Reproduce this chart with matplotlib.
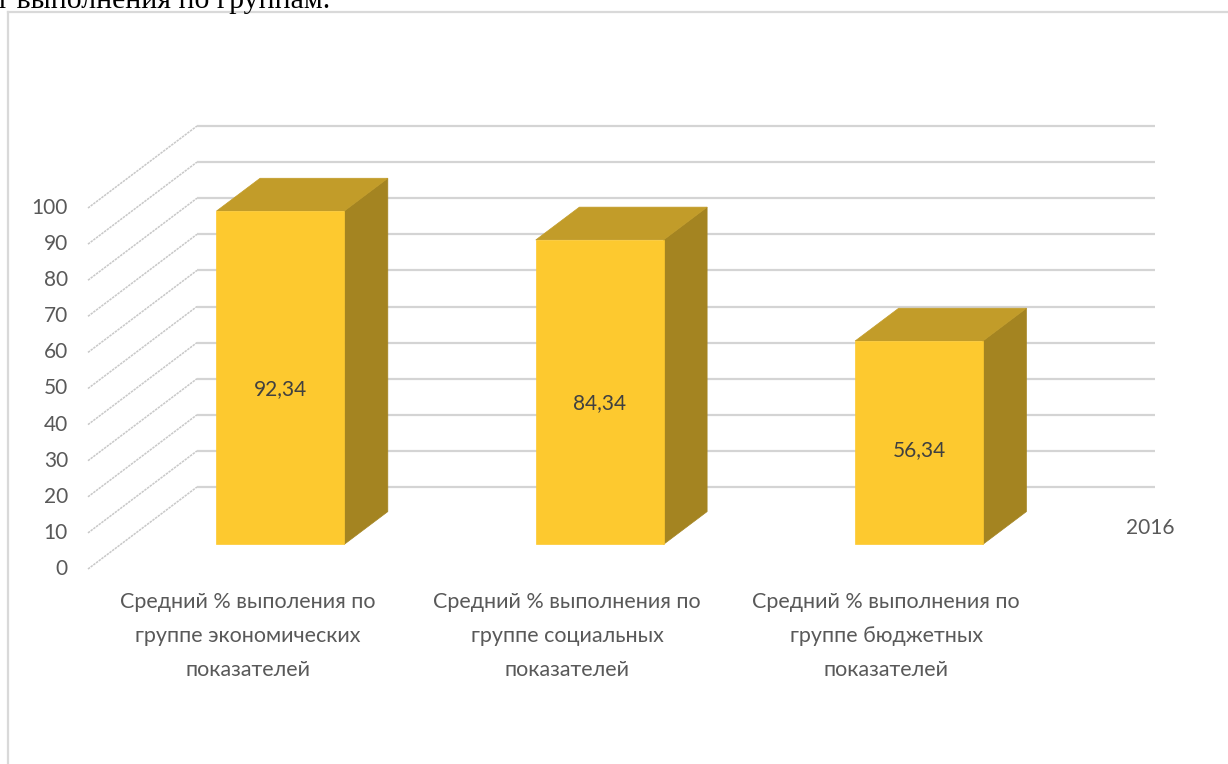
import matplotlib
matplotlib.use("Agg")
import matplotlib.pyplot as plt
from matplotlib.patches import Polygon

# ---- data ----
categories = [
    "Средний % выполения по\nгруппе экономических\nпоказателей",
    "Средний % выполнения по\nгруппе социальных\nпоказателей",
    "Средний % выполнения по\nгруппе бюджетных\nпоказателей",
]
values = [92.34, 84.34, 56.34]
value_labels = ["92,34", "84,34", "56,34"]
y_ticks = [0, 10, 20, 30, 40, 50, 60, 70, 80, 90, 100]
series_name = "2016"
doc_text = "т выполнения по группам."

# ---- geometry (pixels of the 1228x764 canvas) ----
W, H = 1228, 764
PX_X0 = 88.0       # front-plane left edge
CAT_PX = 319.3     # width of one category
PX_Y0 = 569.0      # front-plane zero line (from top)
VAL_PX = 3.61      # pixels per value unit
DEPTH_X, DEPTH_Y = 109.0, 82.0
DX = DEPTH_X / CAT_PX
DY = DEPTH_Y / VAL_PX
BAR_W = 0.4
D0, D1 = 0.3, 0.7

FRONT = "#FDC92F"
TOP = "#C29C29"
SIDE = "#A48421"
GRID = "#D4D4D4"
TXT = "#595959"

plt.rcParams['font.family'] = ['Lato', 'DejaVu Sans']

fig = plt.figure(figsize=(W / 100, H / 100), dpi=100)
ax = fig.add_axes([0, 0, 1, 1])
ax.set_xlim(-PX_X0 / CAT_PX, (W - PX_X0) / CAT_PX)
ax.set_ylim((PX_Y0 - H) / VAL_PX, PX_Y0 / VAL_PX)
ax.axis('off')

n = len(categories)

# chart border
fig.add_artist(plt.Line2D([8 / W, 8 / W], [0, 1 - 12 / H], transform=fig.transFigure,
                          color="#D9D9D9", lw=1.6))
fig.add_artist(plt.Line2D([8 / W, 1], [1 - 12 / H, 1 - 12 / H], transform=fig.transFigure,
                          color="#D9D9D9", lw=1.6))

# document text above chart (cut off by the page edge)
fig.text(330 / W, 1 - 8 / H, doc_text, ha='right', va='baseline',
         family=['Liberation Serif'], fontsize=21.5, color='black')

# gridlines: side wall diagonals and back wall horizontals
for v in y_ticks:
    ax.plot([0, DX], [v, v + DY], color="#C8C8C8", lw=1.1,
            linestyle=(0, (1.6, 0.6)), zorder=1)
    ax.plot([DX, n + DX], [v + DY, v + DY], color=GRID, lw=1.6, zorder=1,
            solid_capstyle='butt')
    ax.text(-20 / CAT_PX, v, str(v), ha='right', va='center', fontsize=15, color=TXT)

# 3D bars
for i, v in enumerate(values):
    xl = i + 0.5 - BAR_W / 2
    xr = i + 0.5 + BAR_W / 2
    ox0, oy0 = D0 * DX, D0 * DY
    ox1, oy1 = D1 * DX, D1 * DY
    front = [(xl + ox0, oy0), (xr + ox0, oy0), (xr + ox0, v + oy0), (xl + ox0, v + oy0)]
    top = [(xl + ox0, v + oy0), (xr + ox0, v + oy0), (xr + ox1, v + oy1), (xl + ox1, v + oy1)]
    side = [(xr + ox0, oy0), (xr + ox1, oy1), (xr + ox1, v + oy1), (xr + ox0, v + oy0)]
    for poly, c in ((side, SIDE), (top, TOP), (front, FRONT)):
        ax.add_patch(Polygon(poly, closed=True, facecolor=c, edgecolor=c, lw=0.5, zorder=3))
    ax.text(i + 0.5 + ox0, v * 0.465 + oy0, value_labels[i], ha='center', va='center',
            fontsize=15, color="#404040", zorder=5)
    ax.text(i + 0.5, -23 / VAL_PX, categories[i], ha='center', va='top', fontsize=15.5,
            color=TXT, linespacing=1.86, zorder=5)

# legend entry (series name)
ax.text((1126 - PX_X0) / CAT_PX, (PX_Y0 - 528) / VAL_PX, series_name, ha='left',
        va='center', fontsize=15, color=TXT)

fig.savefig("out.png", dpi=100)
